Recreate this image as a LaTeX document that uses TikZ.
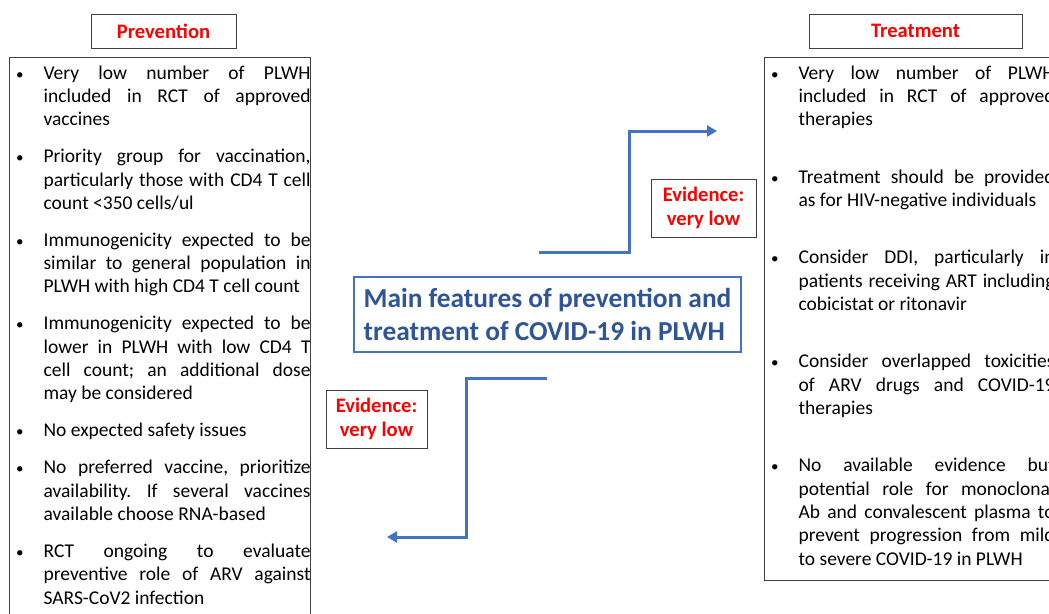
\documentclass[tikz,border=0pt]{standalone}
\usepackage{fontspec}
\setmainfont{Carlito}
\usepackage{enumitem}
\usetikzlibrary{arrows.meta}

\definecolor{arrowblue}{HTML}{4472C4}
\definecolor{titleblue}{HTML}{2F5597}
\definecolor{framegrey}{HTML}{404040}

\newcommand{\bodyfont}{\fontsize{19.5}{23.3}\selectfont}
\newcommand{\headfont}{\fontsize{20.6}{24.2}\selectfont\bfseries}
\newlist{pointlist}{itemize}{1}
\setlist[pointlist]{label={\fontsize{15}{15}\selectfont\textbullet}, leftmargin=34pt, rightmargin=8pt,
  labelsep=20pt, itemsep=13.7pt, parsep=0pt, topsep=0pt, partopsep=0pt}

\tikzset{
  headbox/.style={draw=framegrey, line width=1pt, minimum height=34pt, inner sep=0pt,
    text=red, font=\headfont},
  listbox/.style={draw=framegrey, line width=1.2pt, anchor=north west, inner sep=0pt,
    font=\bodyfont},
  evidbox/.style={draw=framegrey, line width=1pt, minimum height=58pt, inner sep=0pt,
    align=center, text=red, font=\headfont},
  mainbox/.style={draw=arrowblue, line width=2.5pt, minimum width=387pt, minimum height=75pt,
    align=left, text=titleblue, font=\fontsize{27.4}{33}\selectfont\bfseries},
  flowarrow/.style={draw=arrowblue, line width=3pt, -{Triangle[length=10pt,width=11pt]}}
}

\begin{document}
\begin{tikzpicture}[x=1pt,y=-1pt]
\clip (0,0) rectangle (1049,613);
\frenchspacing
\hyphenpenalty=10000 \exhyphenpenalty=10000 \tolerance=10000

\node[headbox, minimum width=145pt] (prevhead) at (163.5,31) {Prevention};
\node[headbox, minimum width=213pt] (treathead) at (915.5,31) {Treatment};

\node[listbox] (prevlist) at (9,57) {\begin{minipage}[t][570pt][t]{309pt}
\vspace{8pt}
\begin{pointlist}
\item Very low number of PLWH \linebreak included in RCT of approved \linebreak vaccines
\item Priority group for vaccination, \linebreak particularly those with CD4 T cell \linebreak count <350 cells/ul
\item Immunogenicity expected to be \linebreak similar to general population in \linebreak PLWH with high CD4 T cell count
\item Immunogenicity expected to be \linebreak lower in PLWH with low CD4 T \linebreak cell count; an additional dose \linebreak may be considered
\item No expected safety issues
\item No preferred vaccine, prioritize \linebreak availability. If several vaccines \linebreak available choose RNA-based
\item RCT ongoing to evaluate \linebreak preventive role of ARV against \linebreak SARS-CoV2 infection
\end{pointlist}
\end{minipage}};

\node[listbox] (treatlist) at (764,57) {\begin{minipage}[t][523pt][t]{309pt}
\vspace{8pt}
\begin{pointlist}[itemsep=34.1pt, rightmargin=19pt]
\item Very low number of PLWH \linebreak included in RCT of approved \linebreak therapies
\item Treatment should be provided \linebreak as for HIV-negative individuals
\item Consider DDI, particularly in \linebreak patients receiving ART including \linebreak cobicistat or ritonavir
\item Consider overlapped toxicities \linebreak of ARV drugs and COVID-19 \linebreak therapies
\item No available evidence but \linebreak potential role for monoclonal \linebreak Ab and convalescent plasma to \linebreak prevent progression from mild \linebreak to severe COVID-19 in PLWH
\end{pointlist}
\end{minipage}};

\node[mainbox] (main) at (547.5,314.5) {Main features of prevention and\\treatment of COVID-19 in PLWH};

\node[evidbox, minimum width=105pt] (evidtreat) at (703.5,208) {Evidence:\\very low};
\node[evidbox, minimum width=101pt] (evidprev) at (376.5,419) {Evidence:\\very low};

\coordinate (upstart) at (539,252);
\coordinate (upknee) at (629,131);
\coordinate (upend) at (717,131);
\coordinate (lowstart) at (547,378);
\coordinate (lowknee) at (466,537);
\coordinate (lowend) at (387,537);

\draw[flowarrow] (upstart) -| (upknee) -- (upend);
\draw[flowarrow] (lowstart) -| (lowknee) -- (lowend);
\end{tikzpicture}
\end{document}
